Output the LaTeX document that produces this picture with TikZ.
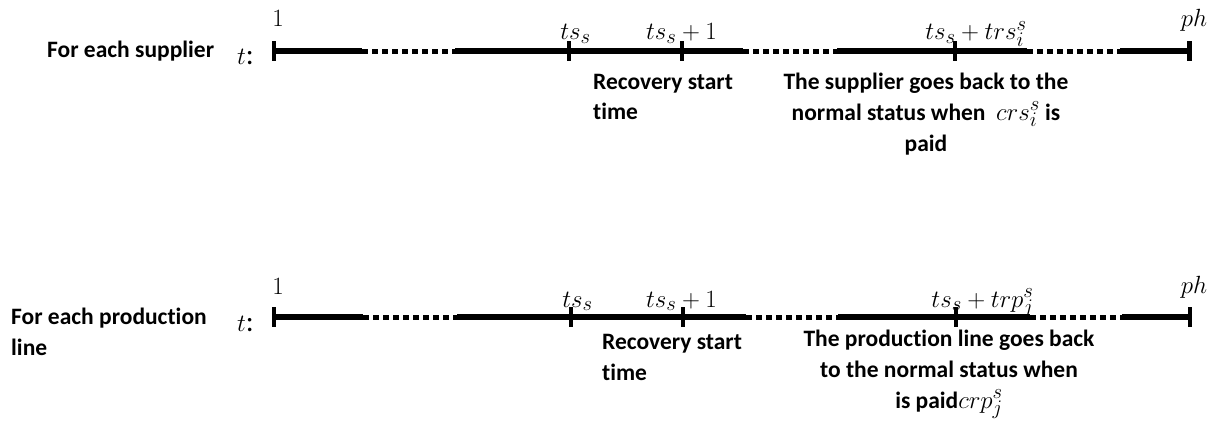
\documentclass[tikz,border=0pt]{standalone}
\usepackage{fontspec}
\setmainfont[Ligatures=NoCommon]{Carlito}
\tikzset{
  lbl/.style={font=\fontsize{23.5}{31}\selectfont\bfseries, inner sep=0pt},
  mth/.style={font=\fontsize{29.5}{34}\selectfont, inner sep=0pt},
  solidseg/.style={line width=6pt, line cap=butt},
  dotseg/.style={line width=5pt, line cap=butt, dash pattern=on 6pt off 4pt},
  tickmark/.style={line width=4.5pt, line cap=butt},
}
\newcommand{\mymathbig}[1]{{\fontsize{29.5}{31}\selectfont$#1$}}
\begin{document}
\begin{tikzpicture}[x=1pt,y=-1pt]
\useasboundingbox (0,0) rectangle (1219,428);
% ---------- Row 1 ----------
\coordinate (a0) at (274,51.5);
\coordinate (a1) at (362,51.5);
\coordinate (a2) at (455,51.5);
\coordinate (a3) at (743,51.5);
\coordinate (a4) at (837,51.5);
\coordinate (a5) at (1027,51.5);
\coordinate (a6) at (1120,51.5);
\coordinate (a7) at (1189.5,51.5);
\coordinate (k1) at (569,51.5);
\coordinate (k2) at (682,51.5);
\coordinate (k3) at (955,51.5);
\draw[solidseg] (a0) -- (a1);
\draw[dotseg] (a1) -- (a2);
\draw[solidseg] (a2) -- (a3);
\draw[dotseg] (a3) -- (a4);
\draw[solidseg] (a4) -- (a5);
\draw[dotseg] (a5) -- (a6);
\draw[solidseg] (a6) -- (a7);
\foreach \c in {a0,k1,k2,k3,a7}{
  \draw[tickmark] ([yshift=10pt]\c) -- ([yshift=-10pt]\c);
}
\node[lbl, anchor=base west] (sup) at (47,58) {For each supplier};
\node[mth, anchor=base west] (t1) at (237,65) {$t$:};
\node[mth, anchor=base] (one1) at (278,27) {$1$};
\node[mth, anchor=base] (ts1) at (575.5,40) {$ts_s$};
\node[mth, anchor=base] (tsp1) at (681.5,40) {$ts_s+1$};
\node[mth, anchor=base] (tstr1) at (976,40) {$ts_s+trs_i^s$};
\node[mth, anchor=base] (ph1) at (1194,27) {$ph$};
\node[lbl, anchor=base west, align=left] (rec1) at (593,120) {Recovery start\\time};
\node[lbl, anchor=base, align=center] (norm1) at (926,151)
  {The supplier goes back to the\\normal status when \ \mymathbig{crs_i^s} is\\paid};
% ---------- Row 2 ----------
\coordinate (b0) at (274,317);
\coordinate (b1) at (363,317);
\coordinate (b2) at (457,317);
\coordinate (b3) at (746,317);
\coordinate (b4) at (838,317);
\coordinate (b5) at (1030,317);
\coordinate (b6) at (1122,317);
\coordinate (b7) at (1190,317);
\coordinate (m1) at (571,317);
\coordinate (m2) at (683,317);
\coordinate (m3) at (956,317);
\draw[solidseg] (b0) -- (b1);
\draw[dotseg] (b1) -- (b2);
\draw[solidseg] (b2) -- (b3);
\draw[dotseg] (b3) -- (b4);
\draw[solidseg] (b4) -- (b5);
\draw[dotseg] (b5) -- (b6);
\draw[solidseg] (b6) -- (b7);
\foreach \c in {b0,m1,m2,m3,b7}{
  \draw[tickmark] ([yshift=10pt]\c) -- ([yshift=-10pt]\c);
}
\node[lbl, anchor=base west, align=left] (prod) at (11,355) {For each production\\line};
\node[mth, anchor=base west] (t2) at (237,331) {$t$:};
\node[mth, anchor=base] (one2) at (278,294) {$1$};
\node[mth, anchor=base] (ts2) at (577.5,307) {$ts_s$};
\node[mth, anchor=base] (tsp2) at (681.5,307) {$ts_s+1$};
\node[mth, anchor=base] (tstr2) at (982.5,307) {$ts_s+trp_j^s$};
\node[mth, anchor=base] (ph2) at (1194,293) {$ph$};
\node[lbl, anchor=base west, align=left] (rec2) at (602,380) {Recovery start\\time};
\node[lbl, anchor=base, align=center] (norm2) at (949,408)
  {The production line goes back\\to the normal status when\\is paid\mymathbig{crp_j^s}};
\end{tikzpicture}
\end{document}
